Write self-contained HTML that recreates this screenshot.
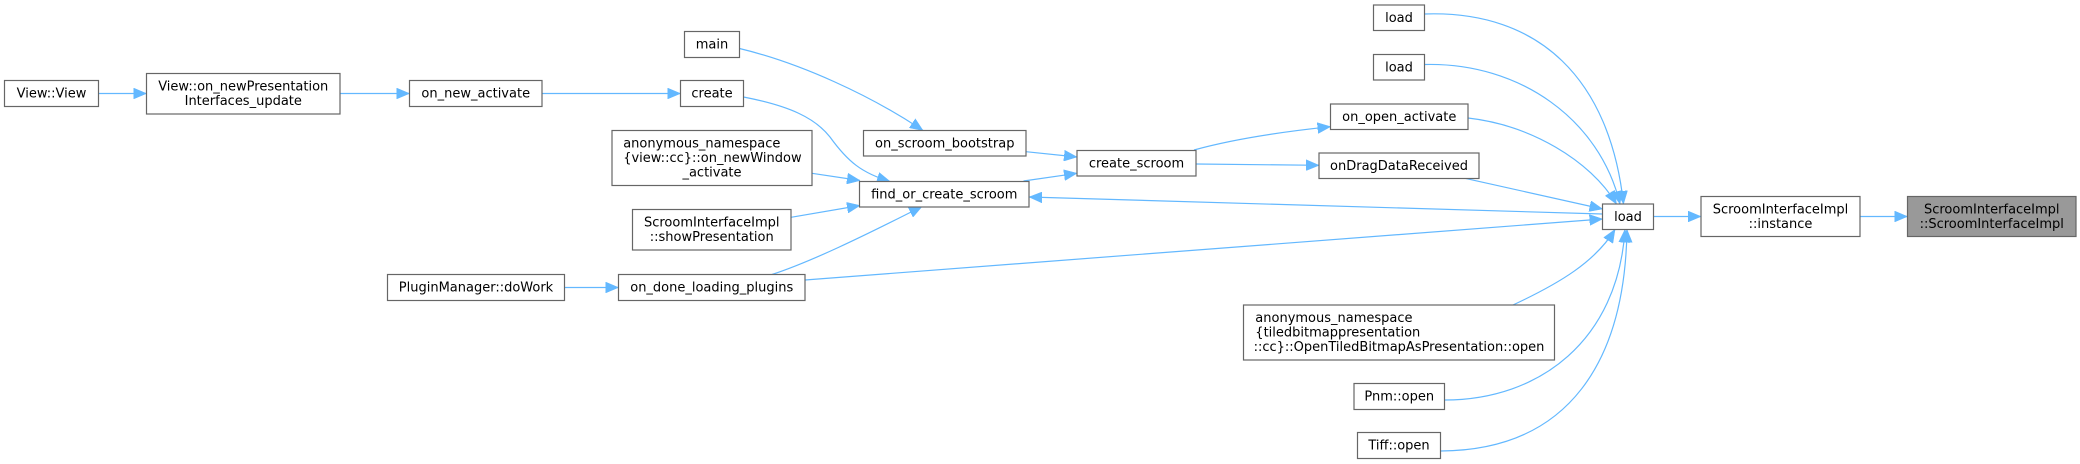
<!DOCTYPE html>
<html>
<head>
<meta charset="utf-8">
<style>
  html, body { margin: 0; padding: 0; background: #ffffff; }
  svg { display: block; }
  text { font-family: "DejaVu Sans", "Liberation Sans", sans-serif; font-size: 13px; fill: #000; }
  .n { fill: #ffffff; stroke: #666666; stroke-width: 1.2; }
  .g { fill: #999999; stroke: #666666; stroke-width: 1.2; }
  .e { fill: none; stroke: #63b8ff; stroke-width: 1.2; }
</style>
</head>
<body>
<svg width="2080" height="464" viewBox="0 0 2080 464" xmlns="http://www.w3.org/2000/svg">
  <defs>
    <marker id="ah" markerUnits="userSpaceOnUse" markerWidth="13" markerHeight="11" viewBox="0 0 12.5 10.5" refX="12.5" refY="5.25" orient="auto">
      <path d="M0,0 L12.5,5.25 L0,10.5 z" fill="#63b8ff" stroke="#63b8ff" stroke-width="0.5"/>
    </marker>
  </defs>

  <!-- Edges -->
  <path class="e" d="M98.5,93.5 L146.5,93.5" marker-end="url(#ah)"/>
  <path class="e" d="M340,93.5 L409.5,93.5" marker-end="url(#ah)"/>
  <path class="e" d="M542,93.5 L680.5,93.5" marker-end="url(#ah)"/>
  <path class="e" d="M743.5,97 C790,106 815,118 830,137 C848,162 862,173 890,181.5" marker-end="url(#ah)"/>
  <path class="e" d="M739.5,48.5 C800,63 870,95 923,130.5" marker-end="url(#ah)"/>
  <path class="e" d="M812,173.3 L860,180.5" marker-end="url(#ah)"/>
  <path class="e" d="M791,217.3 L860,205.5" marker-end="url(#ah)"/>
  <path class="e" d="M772,274.5 C810,262 860,238 922,206.5" marker-end="url(#ah)"/>
  <path class="e" d="M564.5,287.5 L618.5,287.5" marker-end="url(#ah)"/>
  <path class="e" d="M1026,151.7 L1077,157" marker-end="url(#ah)"/>
  <path class="e" d="M1023.5,181 L1077,173.3" marker-end="url(#ah)"/>
  <path class="e" d="M1194,150 C1230,140 1280,132 1330.5,126.7" marker-end="url(#ah)"/>
  <path class="e" d="M1196,164 L1319,165.3" marker-end="url(#ah)"/>
  <path class="e" d="M1602.5,214 L1029,197" marker-end="url(#ah)"/>
  <path class="e" d="M805,280 L1602.5,219" marker-end="url(#ah)"/>
  <path class="e" d="M1424.5,14 C1540,10 1610,80 1623.5,204" marker-end="url(#ah)"/>
  <path class="e" d="M1424.5,64.5 C1520,62 1600,120 1620,204" marker-end="url(#ah)"/>
  <path class="e" d="M1468,118 C1530,125 1590,160 1616.5,204" marker-end="url(#ah)"/>
  <path class="e" d="M1465,178.3 L1602.5,209" marker-end="url(#ah)"/>
  <path class="e" d="M1513,305 C1560,283 1595,262 1615,229.5" marker-end="url(#ah)"/>
  <path class="e" d="M1444.5,400 C1540,400 1618,340 1625,229.5" marker-end="url(#ah)"/>
  <path class="e" d="M1441,451 C1570,450 1625,360 1627,229.5" marker-end="url(#ah)"/>
  <path class="e" d="M1653.5,216.5 L1701,216.5" marker-end="url(#ah)"/>
  <path class="e" d="M1860,216.5 L1907.5,216.5" marker-end="url(#ah)"/>

  <!-- Nodes -->
  <rect class="n" x="4.5" y="80.5" width="94" height="26"/>
  <text x="51.5" y="97.5" text-anchor="middle">View::View</text>

  <rect class="n" x="146.5" y="73.5" width="193.5" height="40.5"/>
  <text x="243.25" y="90.5" text-anchor="middle">View::on_newPresentation</text>
  <text x="243.25" y="105" text-anchor="middle">Interfaces_update</text>

  <rect class="n" x="409.5" y="80.5" width="132.5" height="26"/>
  <text x="475.75" y="97.5" text-anchor="middle">on_new_activate</text>

  <rect class="n" x="387.5" y="274.5" width="177" height="26"/>
  <text x="476" y="291.5" text-anchor="middle">PluginManager::doWork</text>

  <rect class="n" x="684.5" y="31.5" width="55" height="26"/>
  <text x="712" y="48.5" text-anchor="middle">main</text>

  <rect class="n" x="680.5" y="80.5" width="63" height="26"/>
  <text x="712" y="97.5" text-anchor="middle">create</text>

  <rect class="n" x="612" y="130.5" width="200" height="55"/>
  <text x="623.2" y="147.5">anonymous_namespace</text>
  <text x="623.2" y="162">{view::cc}::on_newWindow</text>
  <text x="712" y="176.5" text-anchor="middle">_activate</text>

  <rect class="n" x="632.5" y="209.5" width="158.5" height="40.5"/>
  <text x="711.75" y="226.5" text-anchor="middle">ScroomInterfaceImpl</text>
  <text x="711.75" y="241" text-anchor="middle">::showPresentation</text>

  <rect class="n" x="618.5" y="274.5" width="186.5" height="26"/>
  <text x="711.75" y="291.5" text-anchor="middle">on_done_loading_plugins</text>

  <rect class="n" x="863.5" y="130.5" width="162.5" height="25.5"/>
  <text x="944.75" y="147.5" text-anchor="middle">on_scroom_bootstrap</text>

  <rect class="n" x="859.5" y="181.5" width="169.5" height="25.5"/>
  <text x="944.25" y="198.5" text-anchor="middle">find_or_create_scroom</text>

  <rect class="n" x="1077" y="150.5" width="119" height="25.5"/>
  <text x="1136.5" y="167.5" text-anchor="middle">create_scroom</text>

  <rect class="n" x="1373.5" y="5" width="51" height="25.5"/>
  <text x="1399" y="22" text-anchor="middle">load</text>

  <rect class="n" x="1373.5" y="54.5" width="51" height="25.5"/>
  <text x="1399" y="71.5" text-anchor="middle">load</text>

  <rect class="n" x="1330.5" y="104" width="137.5" height="25.5"/>
  <text x="1399.25" y="121" text-anchor="middle">on_open_activate</text>

  <rect class="n" x="1319" y="153" width="160" height="25.5"/>
  <text x="1399" y="170" text-anchor="middle">onDragDataReceived</text>

  <rect class="n" x="1602.5" y="204" width="51" height="25.5"/>
  <text x="1628" y="221" text-anchor="middle">load</text>

  <rect class="n" x="1243.5" y="305" width="311" height="55"/>
  <text x="1255.3" y="322">anonymous_namespace</text>
  <text x="1255.3" y="336.5">{tiledbitmappresentation</text>
  <text x="1399" y="351" text-anchor="middle">::cc}::OpenTiledBitmapAsPresentation::open</text>

  <rect class="n" x="1354" y="383.5" width="90.5" height="26"/>
  <text x="1399.25" y="400.5" text-anchor="middle">Pnm::open</text>

  <rect class="n" x="1357.5" y="432.5" width="83" height="26"/>
  <text x="1399" y="449.5" text-anchor="middle">Tiff::open</text>

  <rect class="n" x="1701" y="196.5" width="159" height="40"/>
  <text x="1780.5" y="213.3" text-anchor="middle">ScroomInterfaceImpl</text>
  <text x="1780.5" y="227.8" text-anchor="middle">::instance</text>

  <rect class="g" x="1907.5" y="196.5" width="168.5" height="40"/>
  <text x="1991.75" y="213.3" text-anchor="middle">ScroomInterfaceImpl</text>
  <text x="1991.75" y="227.8" text-anchor="middle">::ScroomInterfaceImpl</text>
</svg>
</body>
</html>
